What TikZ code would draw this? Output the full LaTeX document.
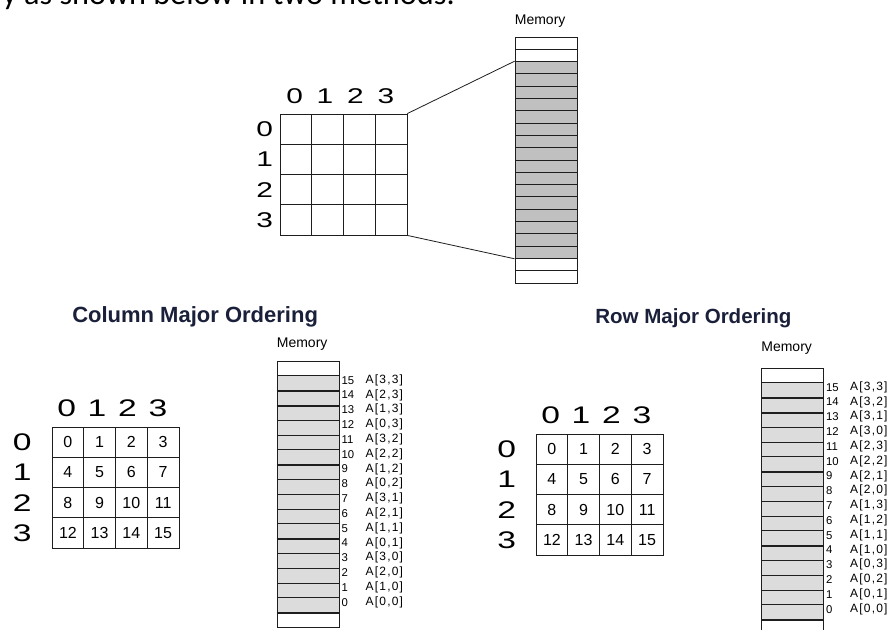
\documentclass[tikz,border=0pt]{standalone}
\usepackage{fontspec}
\setmainfont{Liberation Sans}
\newfontfamily\axisfont[FakeStretch=1.4]{Liberation Sans}
\newfontfamily\addrfont[LetterSpace=10]{Liberation Sans}
\newfontfamily\prosefont{Carlito}
\usetikzlibrary{matrix,calc}
\definecolor{memdark}{HTML}{C0C0C0}
\definecolor{memlight}{HTML}{DCDCDC}
\definecolor{headnavy}{HTML}{1A1F3A}
\definecolor{gridline}{HTML}{1E1E1E}
\tikzset{
	cellbox/.style={draw=gridline, line width=0.6pt, minimum width=23.8pt, minimum height=22.7pt,
		inner sep=0pt, anchor=center, font=\fontsize{12}{12}\selectfont},
	memslot/.style={draw=gridline, line width=0.6pt, minimum width=46.5pt, inner sep=0pt, anchor=center},
	axislabel/.style={inner sep=0pt, font=\axisfont\fontsize{18}{18}\selectfont},
	memlabel/.style={inner sep=0pt, anchor=base west, font=\fontsize{10.5}{11}\selectfont},
	slotnum/.style={inner sep=0pt, anchor=west, font=\fontsize{8.5}{9}\selectfont},
	slotaddr/.style={inner sep=0pt, anchor=west, font=\addrfont\fontsize{9}{9}\selectfont},
	heading/.style={inner sep=0pt, anchor=base west, text=headnavy, font=\bfseries\fontsize{16.5}{18}\selectfont},
	separator/.style={draw=gridline, line width=1.5pt},
	link/.style={draw=gridline, line width=0.6pt}
}

\begin{document}
\begin{tikzpicture}[x=0.75pt,y=-0.75pt]
	\useasboundingbox (0,0) rectangle (888,630);
	\fill[white] (0,0) rectangle (888,630);
	
	% line of text cut by the top edge
	\node[anchor=base west, inner sep=0pt, font=\prosefont\fontsize{24.2}{26}\selectfont] (intro)
	at (2,5) {y as shown below in two methods:};
	
	% array and memory, top
	\matrix (arr) [
	matrix of nodes,
	nodes in empty cells,
	nodes={cellbox},
	column sep=-0.6pt,
	row sep=-0.6pt
	] at (343.5,174.5) {
		& & & \\
		& & & \\
		& & & \\
		& & & \\
	};
	\foreach \c in {1,...,4} {
		\pgfmathtruncatemacro\k{\c-1}
		\node[axislabel, font=\axisfont\fontsize{16}{16}\selectfont] (arr-col-\k)
		at ($(arr-1-\c.north)+(-1.3*\c,-17.5)$) {\k};
		\node[axislabel, font=\axisfont\fontsize{16}{16}\selectfont] (arr-row-\k)
		at ($(arr-\c-1.west)+(-15,0)$) {\k};
	}
	
	\matrix (mem) [
	matrix of nodes,
	nodes in empty cells,
	nodes={memslot, minimum height=9.225pt, fill=memdark},
	row sep=-0.6pt,
	row 1/.style={nodes={fill=white}},
	row 2/.style={nodes={fill=white}},
	row 19/.style={nodes={fill=white}},
	row 20/.style={nodes={fill=white}}
	] at (546,160) {
		\\ \\ \\ \\ \\
		\\ \\ \\ \\ \\
		\\ \\ \\ \\ \\
		\\ \\ \\ \\ \\
	};
	\node[memlabel] (mem-title) at ($(mem-1-1.north west)+(0,-12)$) {Memory};
	
	\draw[link] (arr-1-4.north east) -- (mem-3-1.north west);
	\draw[link] (arr-4-4.south east) -- (mem-18-1.south west);
	
	% column major ordering
	\node[heading] (colhead) at (72,322.7) {Column Major Ordering};
	
	\matrix (colarr) [
	matrix of nodes,
	nodes={cellbox},
	column sep=-0.6pt,
	row sep=-0.6pt
	] at (115.5,487.5) {
		0 & 1 & 2 & 3 \\
		4 & 5 & 6 & 7 \\
		8 & 9 & 10 & 11 \\
		12 & 13 & 14 & 15 \\
	};
	\foreach \c in {1,...,4} {
		\pgfmathtruncatemacro\k{\c-1}
		\node[axislabel] (colarr-col-\k) at ($(colarr-1-\c.north)+(-1.3*\c,-18.5)$) {\k};
		\node[axislabel] (colarr-row-\k) at ($(colarr-\c-1.west)+(-29.5,0)$) {\k};
	}
	
	\matrix (colmem) [
	matrix of nodes,
	nodes in empty cells,
	nodes={memslot, minimum height=11.1pt, fill=memlight},
	row sep=-0.6pt,
	row 1/.style={nodes={fill=white}},
	row 18/.style={nodes={fill=white}}
	] at (308,494.2) {
		\\ \\ \\ \\ \\ \\
		\\ \\ \\ \\ \\ \\
		\\ \\ \\ \\ \\ \\
	};
	\node[memlabel] (colmem-title) at ($(colmem-1-1.north west)+(0,-13)$) {Memory};
	\foreach \r in {2,3,7,12,17}
	\draw[separator] (colmem-\r-1.south west) -- (colmem-\r-1.south east);
	\foreach \n in {0,...,15} {
		\pgfmathtruncatemacro\r{17-\n}
		\pgfmathtruncatemacro\i{mod(\n,4)}
		\pgfmathtruncatemacro\j{div(\n,4)}
		\node[slotnum] (colnum-\n) at ($(colmem-\r-1.east)+(2,-3)$) {\n};
		\node[slotaddr] (coladdr-\n) at ($(colmem-\r-1.east)+(26,-3)$) {A[\i,\j]};
	}
	
	% row major ordering
	\node[heading, font=\bfseries\fontsize{15.4}{17}\selectfont] (rowhead) at (595,324) {Row Major Ordering};
	
	\matrix (rowarr) [
	matrix of nodes,
	nodes={cellbox},
	column sep=-0.6pt,
	row sep=-0.6pt
	] at (599.5,494.5) {
		0 & 1 & 2 & 3 \\
		4 & 5 & 6 & 7 \\
		8 & 9 & 10 & 11 \\
		12 & 13 & 14 & 15 \\
	};
	\foreach \c in {1,...,4} {
		\pgfmathtruncatemacro\k{\c-1}
		\node[axislabel] (rowarr-col-\k) at ($(rowarr-1-\c.north)+(-1.3*\c,-18)$) {\k};
		\node[axislabel] (rowarr-row-\k) at ($(rowarr-\c-1.west)+(-29,0)$) {\k};
	}
	
	\matrix (rowmem) [
	matrix of nodes,
	nodes in empty cells,
	nodes={memslot, minimum height=11.1pt, fill=memlight},
	row sep=-0.6pt,
	row 1/.style={nodes={fill=white}},
	row 18/.style={nodes={fill=white}}
	] at (792.5,501.2) {
		\\ \\ \\ \\ \\ \\
		\\ \\ \\ \\ \\ \\
		\\ \\ \\ \\ \\ \\
	};
	\node[memlabel] (rowmem-title) at ($(rowmem-1-1.north west)+(0,-16)$) {Memory};
	\foreach \r in {2,3,7,12,17}
	\draw[separator] (rowmem-\r-1.south west) -- (rowmem-\r-1.south east);
	\foreach \n in {0,...,15} {
		\pgfmathtruncatemacro\r{17-\n}
		\pgfmathtruncatemacro\i{div(\n,4)}
		\pgfmathtruncatemacro\j{mod(\n,4)}
		\node[slotnum] (rownum-\n) at ($(rowmem-\r-1.east)+(2,-3)$) {\n};
		\node[slotaddr] (rowaddr-\n) at ($(rowmem-\r-1.east)+(26,-3)$) {A[\i,\j]};
	}
\end{tikzpicture}
\end{document}
